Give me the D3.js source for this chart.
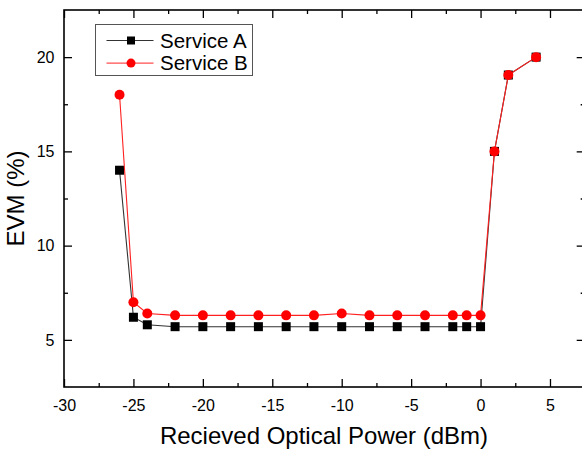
<!DOCTYPE html>
<html>
<head>
<meta charset="utf-8">
<script src="https://cdn.jsdelivr.net/npm/d3@7"></script>
<style>
    body { margin: 0; background: #fff; }
    svg { display: block; font-family: "Liberation Sans", Arial, sans-serif; }
</style>
</head>
<body>
<svg id="chart" width="582" height="450"></svg>
<script>
// received optical power (dBm)
const power = [-26, -25, -24, -22, -20, -18, -16, -14, -12, -10, -8, -6, -4, -2, -1, 0, 1, 2, 4];
// EVM (%) per service
const evmServiceA = [14, 6.2, 5.8, 5.7, 5.7, 5.7, 5.7, 5.7, 5.7, 5.7, 5.7, 5.7, 5.7, 5.7, 5.7, 5.7, 15, 19.05, 20];
const evmServiceB = [18, 7.0, 6.4, 6.3, 6.3, 6.3, 6.3, 6.3, 6.3, 6.4, 6.3, 6.3, 6.3, 6.3, 6.3, 6.3, 15, 19.05, 20];

const xMajor = [-30, -25, -20, -15, -10, -5, 0, 5];
const xMinor = [-27.5, -22.5, -17.5, -12.5, -7.5, -2.5, 2.5];
const yMajor = [5, 10, 15, 20];
const yMinor = [7.5, 12.5, 17.5];

const seriesNames = ["Service A", "Service B"];

const svg = d3.select("#chart");
const margin = { top: 10, left: 64, bottom: 387 };

const x = d3.scaleLinear().domain([-30, 7.5]).range([margin.left, 584.7]);
const y = d3.scaleLinear().domain([2.5, 22.5]).range([margin.bottom, margin.top]);

const x0 = x.range()[0], x1 = x.range()[1];
const y0 = y.range()[0], y1 = y.range()[1];

// plain hyphen minus like the original plot
const plain = d => String(d);

// axes, ticks pointing inwards on all four sides
function styleAxis(g) {
    g.select(".domain").remove();
    g.selectAll("line").attr("stroke", "#000").attr("stroke-width", 1.3);
    g.selectAll("text").attr("fill", "#000").style("font-size", "16px");
}

svg.append("g")
    .attr("transform", `translate(0,${y0})`)
    .call(d3.axisBottom(x).tickValues(xMajor).tickSize(-8).tickSizeOuter(0).tickPadding(12.5).tickFormat(plain))
    .call(styleAxis);
svg.append("g")
    .attr("transform", `translate(0,${y0})`)
    .call(d3.axisBottom(x).tickValues(xMinor).tickSize(-4).tickSizeOuter(0).tickFormat(""))
    .call(styleAxis);
svg.append("g")
    .attr("transform", `translate(0,${y1})`)
    .call(d3.axisTop(x).tickValues(xMajor).tickSize(-8).tickSizeOuter(0).tickFormat(""))
    .call(styleAxis);
svg.append("g")
    .attr("transform", `translate(0,${y1})`)
    .call(d3.axisTop(x).tickValues(xMinor).tickSize(-4).tickSizeOuter(0).tickFormat(""))
    .call(styleAxis);

svg.append("g")
    .attr("transform", `translate(${x0},0)`)
    .call(d3.axisLeft(y).tickValues(yMajor).tickSize(-8).tickSizeOuter(0).tickPadding(9.5).tickFormat(plain))
    .call(styleAxis);
svg.append("g")
    .attr("transform", `translate(${x0},0)`)
    .call(d3.axisLeft(y).tickValues(yMinor).tickSize(-4).tickSizeOuter(0).tickFormat(""))
    .call(styleAxis);
svg.append("g")
    .attr("transform", `translate(${x1},0)`)
    .call(d3.axisRight(y).tickValues(yMajor).tickSize(-8).tickSizeOuter(0).tickFormat(""))
    .call(styleAxis);
svg.append("g")
    .attr("transform", `translate(${x1},0)`)
    .call(d3.axisRight(y).tickValues(yMinor).tickSize(-4).tickSizeOuter(0).tickFormat(""))
    .call(styleAxis);

// frame
svg.append("rect")
    .attr("x", x0).attr("y", y1)
    .attr("width", x1 - x0).attr("height", y0 - y1)
    .attr("fill", "none")
    .attr("stroke", "#000")
    .attr("stroke-width", 1.6);

// axis titles
svg.append("text")
    .attr("x", (x0 + 584) / 2)
    .attr("y", 444)
    .attr("text-anchor", "middle")
    .style("font-size", "24px")
    .text("Recieved Optical Power (dBm)");

svg.append("text")
    .attr("transform", `translate(24,${(y0 + y1) / 2}) rotate(-90)`)
    .attr("text-anchor", "middle")
    .style("font-size", "24px")
    .text("EVM (%)");

// series
const line = d3.line().x(d => x(d[0])).y(d => y(d[1]));
const dataA = power.map((p, i) => [p, evmServiceA[i]]);
const dataB = power.map((p, i) => [p, evmServiceB[i]]);

svg.append("path")
    .datum(dataA)
    .attr("d", line)
    .attr("fill", "none")
    .attr("stroke", "#333")
    .attr("stroke-width", 1.1);

svg.selectAll(".markA")
    .data(dataA)
    .enter().append("rect")
    .attr("class", "markA")
    .attr("x", d => x(d[0]) - 4.5)
    .attr("y", d => y(d[1]) - 4.5)
    .attr("width", 9)
    .attr("height", 9)
    .attr("fill", "#000");

svg.append("path")
    .datum(dataB)
    .attr("d", line)
    .attr("fill", "none")
    .attr("stroke", "#ff2020")
    .attr("stroke-width", 1.1);

svg.selectAll(".markB")
    .data(dataB)
    .enter().append("circle")
    .attr("class", "markB")
    .attr("cx", d => x(d[0]))
    .attr("cy", d => y(d[1]))
    .attr("r", 5)
    .attr("fill", "#ff0000");

// legend
const legend = svg.append("g").attr("transform", "translate(95.5,24.5)");
legend.append("rect")
    .attr("width", 157)
    .attr("height", 51)
    .attr("fill", "#fff")
    .attr("stroke", "#555")
    .attr("stroke-width", 1);

const rows = legend.selectAll(".row")
    .data(seriesNames)
    .enter().append("g")
    .attr("class", "row")
    .attr("transform", (d, i) => `translate(0,${16 + i * 22.6})`);

rows.append("line")
    .attr("x1", 11).attr("x2", 58)
    .attr("stroke", (d, i) => i === 0 ? "#333" : "#ff2020")
    .attr("stroke-width", 1);

rows.filter((d, i) => i === 0).append("rect")
    .attr("x", 31.5).attr("y", -4).attr("width", 8).attr("height", 8)
    .attr("fill", "#000");
rows.filter((d, i) => i === 1).append("circle")
    .attr("cx", 35.5).attr("r", 4.5)
    .attr("fill", "#ff0000");

rows.append("text")
    .attr("x", 64.5)
    .attr("dy", "0.36em")
    .style("font-size", "20.5px")
    .text(d => d);
</script>
</body>
</html>
